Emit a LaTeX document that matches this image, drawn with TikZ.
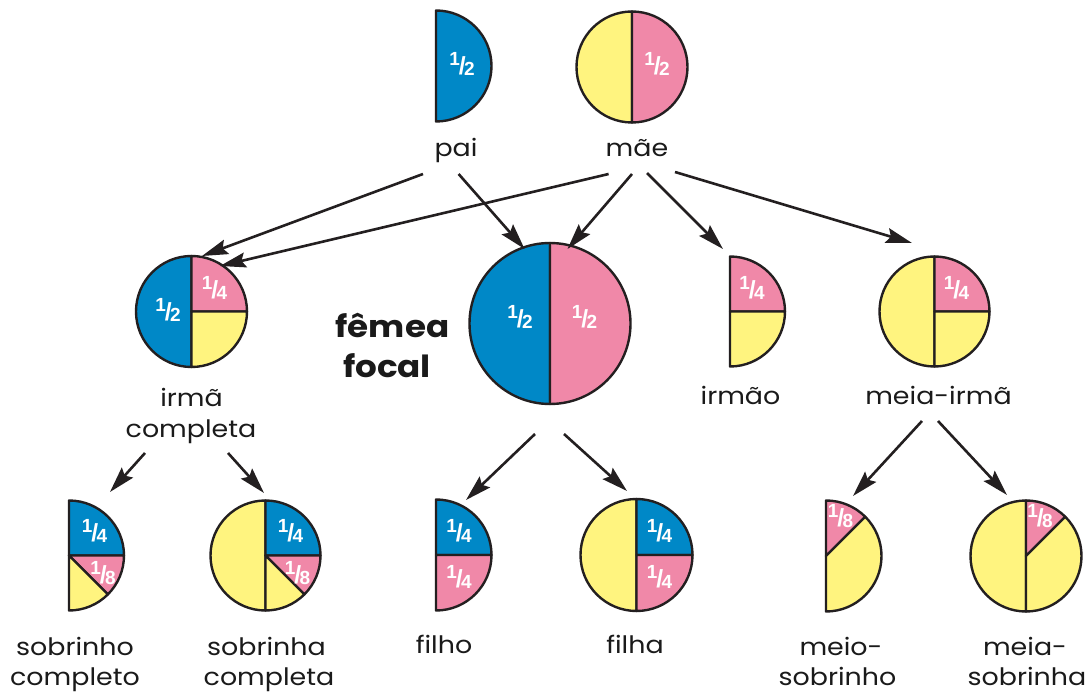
\documentclass[tikz,border=0pt]{standalone}
\usepackage{fontspec}
\setmainfont[FakeStretch=1.12]{Poppins}
\newfontfamily\fracfont{Liberation Sans}
\usetikzlibrary{arrows.meta}
\definecolor{cblue}{HTML}{0088C7}
\definecolor{cpink}{HTML}{F088A8}
\definecolor{cyell}{HTML}{FFF47F}
\definecolor{coutl}{HTML}{231F20}
\definecolor{ctext}{HTML}{1A1A1A}
\tikzset{
  pieline/.style={draw=coutl,line width=2.4pt,line join=round},
  lbl/.style={anchor=base,inner sep=0pt,text=ctext,font=\fontsize{24}{24}\selectfont},
  bold lbl/.style={anchor=base,inner sep=0pt,text=ctext,font=\fontsize{30.5}{30.5}\selectfont\bfseries},
  frac/.style={inner sep=0pt,text=white},
  arr/.style={draw=coutl,line width=2.6pt,-{Stealth[length=26pt,width=15pt,inset=4pt]}}
}
\newcommand\pslice[6]{\filldraw[fill=#1,pieline] (#2pt,#3pt) -- ++(#5:#4pt) arc[start angle=#5,end angle=#6,radius=#4pt] -- cycle;}
\newcommand\fr[2]{{\fracfont\bfseries\fontsize{19}{19}\selectfont\raisebox{4.5pt}{#1}\kern-1.2pt\raisebox{-4pt}{\scalebox{1.3}{/}}\kern-1.6pt\raisebox{-5pt}{#2}}}
\begin{document}
\begin{tikzpicture}[x=1pt,y=1pt]
\useasboundingbox (0,0) rectangle (1087,694);
% ---- pies ----
% pai
\pslice{cblue}{436}{628}{55.5}{-90}{90}
% mae
\pslice{cyell}{632}{627}{55.5}{90}{270}
\pslice{cpink}{632}{627}{55.5}{-90}{90}
% irma completa
\pslice{cblue}{191.5}{382.5}{55.5}{90}{270}
\pslice{cpink}{191.5}{382.5}{55.5}{0}{90}
\pslice{cyell}{191.5}{382.5}{55.5}{-90}{0}
% femea focal
\pslice{cblue}{550}{370.5}{80.5}{90}{270}
\pslice{cpink}{550}{370.5}{80.5}{-90}{90}
% irmao
\pslice{cpink}{730}{382.5}{55}{0}{90}
\pslice{cyell}{730}{382.5}{55}{-90}{0}
% meia-irma
\pslice{cyell}{934.5}{382.5}{55}{90}{270}
\pslice{cpink}{934.5}{382.5}{55}{0}{90}
\pslice{cyell}{934.5}{382.5}{55}{-90}{0}
% sobrinho completo
\pslice{cblue}{69}{138.5}{55}{0}{90}
\pslice{cpink}{69}{138.5}{55}{-45}{0}
\pslice{cyell}{69}{138.5}{55}{-90}{-45}
% sobrinha completa
\pslice{cyell}{265.5}{138.5}{55}{90}{270}
\pslice{cblue}{265.5}{138.5}{55}{0}{90}
\pslice{cpink}{265.5}{138.5}{55}{-45}{0}
\pslice{cyell}{265.5}{138.5}{55}{-90}{-45}
% filho
\pslice{cblue}{436}{139}{55.5}{0}{90}
\pslice{cpink}{436}{139}{55.5}{-90}{0}
% filha
\pslice{cyell}{636.5}{139}{56}{90}{270}
\pslice{cblue}{636.5}{139}{56}{0}{90}
\pslice{cpink}{636.5}{139}{56}{-90}{0}
% meio-sobrinho
\pslice{cpink}{826}{138}{55.5}{45}{90}
\pslice{cyell}{826}{138}{55.5}{-90}{45}
% meia-sobrinha
\pslice{cyell}{1026}{138}{55.5}{90}{270}
\pslice{cpink}{1026}{138}{55.5}{45}{90}
\pslice{cyell}{1026}{138}{55.5}{-90}{45}
% ---- fractions ----
\node[frac] (fpai) at (462,630) {\fr12};
\node[frac] (fmae) at (657,630) {\fr12};
\node[frac] (fic1) at (168,384) {\fr12};
\node[frac] (fic2) at (214.5,406) {\fr14};
\node[frac] (ff1) at (520,377) {\fr12};
\node[frac] (ff2) at (584.5,377) {\fr12};
\node[frac] (firmao) at (752,406) {\fr14};
\node[frac] (fmi) at (956.5,406) {\fr14};
\node[frac] (fsc1) at (94.5,163) {\fr14};
\node[frac] (fsc2) at (103,121) {\fr18};
\node[frac] (fsa1) at (290.5,163) {\fr14};
\node[frac] (fsa2) at (297.5,121) {\fr18};
\node[frac] (ffo1) at (459,163) {\fr14};
\node[frac] (ffo2) at (459,117) {\fr14};
\node[frac] (ffa1) at (659.5,163) {\fr14};
\node[frac] (ffa2) at (659.5,117) {\fr14};
\node[frac] (fms) at (840.5,178) {\fr18};
\node[frac] (fmsa) at (1040,178) {\fr18};
% ---- labels ----
\node[lbl] (lpai) at (456,537) {pai};
\node[lbl] (lmae) at (637,537) {mãe};
\node[lbl] (lic1) at (191.5,287.5) {irmã};
\node[lbl] (lic2) at (191,256.5) {completa};
\node[lbl] (lirmao) at (740.5,289) {irmão};
\node[lbl] (lmi) at (938.5,289) {meia-irmã};
\node[bold lbl] (lf1) at (392.5,356) {fêmea};
\node[bold lbl] (lf2) at (387,316) {focal};
\node[lbl] (lsc1) at (75,39) {sobrinho};
\node[lbl] (lsc2) at (75,9) {completo};
\node[lbl] (lsa1) at (266.5,39) {sobrinha};
\node[lbl] (lsa2) at (269,9) {completa};
\node[lbl] (lfo) at (444,41) {filho};
\node[lbl] (lfa) at (635,41) {filha};
\node[lbl] (lms1) at (841,39) {meio-};
\node[lbl] (lms2) at (837.5,9) {sobrinho};
\node[lbl] (lmsa1) at (1025,39) {meia-};
\node[lbl] (lmsa2) at (1027,9) {sobrinha};
% ---- arrow ends ----
\coordinate (s1) at (423,520);   \coordinate (t1) at (202,438);
\coordinate (s2) at (458.6,520); \coordinate (t2) at (524.6,445);
\coordinate (s3) at (608.6,520); \coordinate (t3) at (220,428);
\coordinate (s4) at (632,520);   \coordinate (t4) at (567.5,445);
\coordinate (s5) at (647,521);   \coordinate (t5) at (723,445);
\coordinate (s6) at (675,522);   \coordinate (t6) at (912,451);
\coordinate (s7) at (145,241);   \coordinate (t7) at (110,202);
\coordinate (s8) at (228,241);   \coordinate (t8) at (264,201);
\coordinate (s9) at (535,260);   \coordinate (t9) at (466,194);
\coordinate (s10) at (564,260);  \coordinate (t10) at (627,203);
\coordinate (s11) at (922,273);  \coordinate (t11) at (853,198);
\coordinate (s12) at (938,273);  \coordinate (t12) at (1007,199);
\foreach \i in {1,...,12} {\draw[arr] (s\i) -- (t\i);}
\end{tikzpicture}
\end{document}
